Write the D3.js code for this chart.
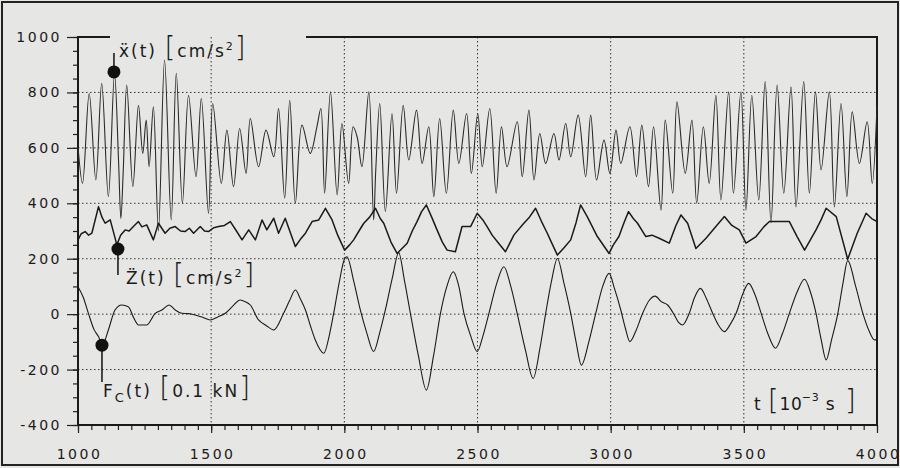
<!DOCTYPE html>
<html>
<head>
  <meta http-equiv="content-type" content="text/html; charset=utf-8">
  <title>Acceleration and force traces</title>
  <style>
    body { margin: 0; background: #e6e6e4; }
    svg#canvas { display: block; }
    text { font-family: "DejaVu Sans", sans-serif; fill: #1a1a1a; }
  </style>
</head>
<body>
  <svg id="canvas"></svg>
  <script src="https://d3js.org/d3.v7.min.js"></script>
  <script>

    const accelX = [
      [1000, 604], [1017, 472], [1042, 796], [1067, 484], [1089, 833], [1114, 424], [1137, 869],
      [1152, 560], [1161, 345], [1170, 520], [1183, 827], [1206, 460], [1227, 754], [1243, 580], [1256, 700],
      [1267, 532], [1283, 748], [1302, 300], [1325, 917], [1350, 340], [1369, 869], [1392, 400],
      [1415, 790], [1443, 496], [1463, 778], [1490, 363], [1506, 760], [1538, 472], [1559, 664],
      [1584, 460], [1607, 670], [1631, 508], [1647, 706], [1678, 532], [1706, 664], [1735, 568],
      [1753, 742], [1776, 418], [1795, 772], [1816, 400], [1841, 682], [1872, 580], [1897, 676],
      [1912, 742], [1926, 436], [1948, 802], [1973, 430], [1991, 688], [2016, 472], [2033, 676],
      [2048, 640], [2066, 532], [2092, 802], [2110, 340], [2118, 520], [2133, 760], [2154, 370], [2179, 724],
      [2196, 436], [2221, 754], [2242, 556], [2271, 736], [2292, 544], [2317, 676], [2336, 424],
      [2358, 706], [2383, 436], [2409, 736], [2430, 544], [2459, 724], [2477, 508], [2501, 724],
      [2518, 532], [2546, 742], [2570, 436], [2590, 676], [2611, 532], [2649, 694], [2668, 496],
      [2693, 736], [2712, 484], [2734, 652], [2756, 544], [2787, 652], [2806, 556], [2831, 688],
      [2850, 568], [2878, 718], [2906, 496], [2925, 718], [2947, 484], [2975, 628], [2997, 508],
      [3020, 664], [3038, 544], [3072, 676], [3097, 496], [3117, 682], [3142, 460], [3161, 676],
      [3189, 375], [3205, 700], [3233, 436], [3249, 766], [3280, 508], [3305, 700], [3323, 400],
      [3348, 676], [3370, 472], [3395, 790], [3414, 412], [3443, 802], [3461, 436], [3489, 802],
      [3508, 375], [3530, 790], [3556, 412], [3580, 839], [3602, 330], [3625, 827], [3650, 436],
      [3677, 820], [3696, 387], [3725, 839], [3746, 436], [3769, 802], [3790, 520], [3821, 802],
      [3840, 387], [3865, 760], [3887, 424], [3907, 730], [3934, 544], [3963, 694], [3982, 472],
      [4000, 754]
    ];

    // vertical acceleration z''(t), [t ms, cm/s2]
    const accelZ = [
      [1000, 268], [1012, 290], [1027, 298], [1040, 285], [1052, 292], [1077, 388], [1090, 350], [1102, 328],
      [1121, 340], [1146, 250], [1160, 285], [1177, 304], [1192, 300], [1208, 316], [1227, 334], [1240, 315],
      [1258, 322], [1283, 268], [1302, 328], [1327, 292], [1345, 310], [1365, 316], [1385, 300],
      [1402, 298], [1418, 310], [1434, 292], [1459, 316], [1475, 300], [1490, 298], [1510, 312],
      [1528, 316], [1550, 320], [1572, 334], [1595, 300], [1616, 268], [1641, 304], [1666, 268],
      [1691, 340], [1709, 304], [1735, 346], [1753, 292], [1778, 346], [1816, 244], [1835, 270],
      [1854, 292], [1879, 334], [1904, 340], [1929, 382], [1954, 340], [1975, 285], [2001, 231],
      [2020, 250], [2035, 268], [2055, 300], [2073, 328], [2095, 350], [2117, 382], [2135, 345], [2148, 328],
      [2175, 260], [2198, 219], [2236, 256], [2255, 300], [2273, 334], [2290, 370], [2308, 394],
      [2328, 350], [2348, 304], [2368, 260], [2386, 231], [2417, 225], [2442, 316], [2474, 316],
      [2499, 364], [2520, 340], [2536, 316], [2555, 285], [2574, 262], [2605, 225], [2637, 286],
      [2674, 328], [2695, 350], [2718, 382], [2740, 335], [2762, 292], [2782, 250], [2800, 213],
      [2825, 240], [2850, 268], [2870, 330], [2887, 394], [2912, 352], [2950, 280], [2994, 219],
      [3010, 250], [3031, 280], [3050, 330], [3067, 370], [3085, 345], [3101, 328], [3132, 280],
      [3155, 285], [3182, 274], [3220, 256], [3245, 320], [3264, 358], [3289, 328], [3320, 237],
      [3358, 274], [3395, 316], [3427, 352], [3455, 320], [3483, 304], [3508, 256], [3546, 280],
      [3575, 315], [3596, 334], [3634, 334], [3671, 334], [3700, 280], [3728, 231], [3771, 304],
      [3790, 340], [3809, 382], [3847, 352], [3890, 198], [3925, 290], [3959, 364], [3980, 345],
      [4000, 334]
    ];

    // contact force Fc(t), [t ms, 0.1 kN]
    const forceC = [
      [1000, 99], [1020, 60], [1039, 3], [1060, -55], [1077, -81], [1092, -111], [1114, -57],
      [1139, 15], [1164, 33], [1189, 27], [1210, -15], [1227, -39], [1258, -39], [1290, 3],
      [1315, 15], [1342, 33], [1365, 15], [1390, 3], [1415, 2], [1440, -3], [1470, -12],
      [1496, -21], [1525, -10], [1553, 3], [1580, 28], [1609, 51], [1628, 45], [1647, 33],
      [1678, -21], [1705, -40], [1735, -57], [1772, 3], [1795, 50], [1816, 87], [1835, 55],
      [1854, 15], [1872, -40], [1891, -93], [1923, -141], [1945, -70], [1960, 3], [1980, 110],
      [2001, 200], [2010, 207], [2035, 120], [2060, 15], [2085, -70], [2110, -135], [2132, -70],
      [2154, 15], [2180, 130], [2204, 222], [2226, 120], [2248, 3], [2278, -150], [2308, -274],
      [2335, -150], [2361, 3], [2385, 100], [2409, 153], [2430, 100], [2449, 3], [2475, -80],
      [2499, -135], [2520, -80], [2543, 3], [2572, 110], [2599, 171], [2625, 100], [2649, 3],
      [2680, -130], [2709, -232], [2735, -120], [2756, 3], [2778, 120], [2800, 201], [2825, 110],
      [2850, 3], [2870, -100], [2890, -184], [2918, -100], [2944, 3], [2970, 100], [2994, 147],
      [3015, 90], [3038, 15], [3055, -50], [3072, -99], [3095, -60], [3120, 3], [3145, 50],
      [3167, 65], [3190, 45], [3214, 33], [3239, -3], [3255, -30], [3270, -39], [3295, 3],
      [3315, 60], [3337, 93], [3360, 55], [3383, 3], [3405, -40], [3427, -63], [3450, -35],
      [3471, 3], [3495, 70], [3518, 111], [3542, 70], [3565, 3], [3590, -70], [3619, -123],
      [3645, -70], [3671, 3], [3700, 80], [3728, 126], [3750, 80], [3771, 3], [3790, -90],
      [3809, -165], [3830, -90], [3853, 3], [3872, 110], [3890, 193], [3920, 100], [3947, 3],
      [3970, -60], [3991, -93], [4000, -93]
    ];

    const xTicks = [1000, 1500, 2000, 2500, 3000, 3500, 4000];
    const yTicks = [-400, -200, 0, 200, 400, 600, 800, 1000];
    const xGrid = [1500, 2000, 2500, 3000, 3500];
    const yGrid = [-200, 0, 200, 400, 600, 800];

    // marker: [t, value, leader end value]
    const markers = [[1135, 874, 942], [1150, 235, 141], [1090, -112, -245]];

    const W = 900, H = 468;
    const plot = { left: 78, right: 877, top: 37, bottom: 425 };

    const svg = d3.select("svg#canvas").attr("width", W).attr("height", H);

    svg.append("rect")
      .attr("x", 2).attr("y", 2).attr("width", W - 4).attr("height", H - 5)
      .style("fill", "#e6e6e4").style("stroke", "#222").style("stroke-width", 2);

    const x = d3.scaleLinear().domain([1000, 4000]).range([plot.left, plot.right]);
    const y = d3.scaleLinear().domain([-400, 1000]).range([plot.bottom, plot.top]);

    // dotted grid
    const grid = svg.append("g").style("stroke", "#333").style("stroke-width", 1).style("stroke-dasharray", "1.5,2.5");
    grid.selectAll(".gx").data(xGrid).enter().append("line")
      .attr("x1", d => x(d)).attr("x2", d => x(d)).attr("y1", plot.top).attr("y2", plot.bottom);
    grid.selectAll(".gy").data(yGrid).enter().append("line")
      .attr("y1", d => y(d)).attr("y2", d => y(d)).attr("x1", plot.left).attr("x2", plot.right);

    // axes
    const minorX = d3.range(1000, 4001, 50);
    const minorY = d3.range(-400, 1001, 50);

    const styleAxis = g => {
      g.select(".domain").remove();
      g.selectAll("line").style("stroke", "#222").style("stroke-width", 1.2);
      g.selectAll("text").style("font-size", "14px").style("letter-spacing", "2.5px").style("font-family", "DejaVu Sans");
    };

    svg.append("g").attr("transform", "translate(0," + plot.bottom + ")")
      .call(d3.axisBottom(x).tickValues(minorX).tickSize(5).tickFormat(""))
      .call(styleAxis);
    svg.append("g").attr("transform", "translate(1," + plot.bottom + ")")
      .call(d3.axisBottom(x).tickValues(xTicks).tickSize(8).tickPadding(16).tickFormat(d3.format("d")))
      .call(styleAxis)
      .selectAll("line").attr("transform", "translate(-1,0)");
    svg.append("g").attr("transform", "translate(" + plot.left + ",0)")
      .call(d3.axisLeft(y).tickValues(minorY).tickSize(5).tickFormat(""))
      .call(styleAxis);
    svg.append("g").attr("transform", "translate(" + plot.left + ",0)")
      .call(d3.axisLeft(y).tickValues(yTicks).tickSize(11).tickPadding(5).tickFormat(d3.format("d")))
      .call(styleAxis)
      .selectAll("text").text(d => d < 0 ? "-" + Math.abs(d) : d);

    // frame with gap in the top edge for the label
    const frame = svg.append("g").style("stroke", "#1a1a1a").style("stroke-width", 2).style("fill", "none");
    frame.append("path").attr("d",
      "M" + 110 + "," + plot.top + "H" + plot.left + "V" + plot.bottom + "H" + plot.right + "V" + plot.top + "H" + 306);

    // traces
    const line = curve => d3.line().x(d => x(d[0])).y(d => y(d[1])).curve(curve);
    const traces = svg.append("g").style("fill", "none").style("stroke-linejoin", "round");
    traces.append("path").datum(accelX).attr("d", line(d3.curveCatmullRom.alpha(0.5)))
      .style("stroke", "#2a2a2a").style("stroke-width", 1.1);
    traces.append("path").datum(accelZ).attr("d", line(d3.curveLinear))
      .style("stroke", "#1a1a1a").style("stroke-width", 1.5);
    traces.append("path").datum(forceC).attr("d", line(d3.curveMonotoneX))
      .style("stroke", "#1a1a1a").style("stroke-width", 1.1);

    // markers with leaders
    const mk = svg.append("g");
    mk.selectAll("line").data(markers).enter().append("line")
      .attr("x1", d => x(d[0])).attr("x2", d => x(d[0]))
      .attr("y1", d => y(d[1])).attr("y2", d => y(d[2]))
      .style("stroke", "#111").style("stroke-width", 1.5);
    mk.selectAll("circle").data(markers).enter().append("circle")
      .attr("cx", d => x(d[0])).attr("cy", d => y(d[1])).attr("r", 6.5)
      .style("fill", "#111");

    // labels
    const label = (px, py, parts, spacing) => {
      const t = svg.append("text").attr("x", px).attr("y", py).style("letter-spacing", (spacing == null ? 2 : spacing) + "px");
      parts.forEach(p => {
        const s = t.append("tspan").text(p.s).style("font-size", (p.size || 17) + "px");
        if (p.dy) s.attr("dy", p.dy);
        if (p.dx) s.attr("dx", p.dx);
        if (p.light) s.style("font-weight", "200");
      });
      return t;
    };

    label(119, 57, [
      { s: "ẍ(t) " }, { s: "[", size: 28, light: true }, { s: "cm/s" },
      { s: "2", size: 11, dy: -7 }, { s: "]", size: 28, light: true, dy: 7 }
    ]);
    label(126, 284, [
      { s: "Z̈(t)  " }, { s: "[", size: 28, light: true }, { s: "cm/s" },
      { s: "2", size: 11, dy: -7 }, { s: "]", size: 28, light: true, dy: 7 }
    ]);
    label(103, 397, [
      { s: "F" }, { s: "C", size: 13, dy: 5 }, { s: "(t) ", dy: -5 }, { s: "[", size: 28, light: true },
      { s: "0.1 kN" }, { s: "]", size: 28, light: true }
    ]);
    label(754, 410, [
      { s: "t " }, { s: "[", size: 28, light: true }, { s: "10" },
      { s: "\u22123", size: 11, dy: -9, dx: -1 },
      { s: " s", dy: 9 }, { s: " ]", size: 28, light: true }
    ], 0.8);

  </script>
</body>
</html>
